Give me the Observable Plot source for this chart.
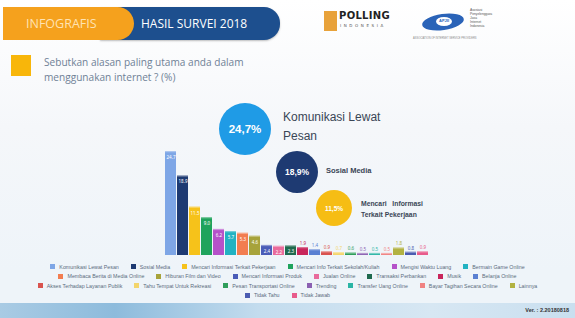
<!DOCTYPE html>
<html>
<head>
<meta charset="utf-8">
<script src="https://cdn.jsdelivr.net/npm/d3@7"></script>
<script src="https://cdn.jsdelivr.net/npm/@observablehq/plot@0.6"></script>
<style>
  html, body { margin: 0; padding: 0; background: #f6f8fb; }
  #slide { position: relative; width: 575px; height: 318px; overflow: hidden;
    font-family: "Open Sans", "Noto Sans", sans-serif;
    background: linear-gradient(180deg, #ffffff 0%, #f5f7fa 40%, #eef4f9 85%); }
  .abs { position: absolute; }
  #tab1 { left: 3px; top: 7px; width: 131px; height: 33px; background: #f5a11d;
    border-radius: 0 17px 17px 0; z-index: 2; }
  #tab2 { left: 100px; top: 7px; width: 180px; height: 33px; background: #1d4f8e;
    border-radius: 0 16px 16px 0; box-shadow: 0 1px 2px rgba(0,0,0,0.25); z-index: 1; }
  #tab1 span { position: absolute; left: 23px; top: 8px; color: #ffe3b3; font-size: 12.5px; }
  #tab2 span { position: absolute; left: 41px; top: 8px; color: #ffffff; font-size: 12px; }
  #qbox { left: 11px; top: 55px; width: 20px; height: 21px; background: #f8b60a; }
  #qtext { left: 44px; top: 55px; color: #6f8196; font-size: 10.1px; line-height: 15px; }
  .circle { position: absolute; border-radius: 50%; display: flex; align-items: center;
    justify-content: center; color: #fff; font-family: "Liberation Sans", Arial, sans-serif;
    font-weight: bold; }
  .clabel { position: absolute; font-family: "Liberation Sans", Arial, sans-serif; color: #3a4656; }
  #legend { left: 0; top: 262px; width: 575px; font-size: 5.3px; color: #5a6b7d;
    font-family: "Liberation Sans", Arial, sans-serif; }
  .lrow { display: flex; justify-content: center; height: 9.5px; align-items: center; }
  .litem { display: flex; align-items: center; margin: 0 6px; white-space: nowrap; }
  .sw { width: 5px; height: 5px; margin-right: 4px; display: inline-block; }
  #footer { left: 0; top: 303px; width: 575px; height: 15px;
    background: linear-gradient(90deg, #a9cbe4 0%, #8dbbdc 20%, #c3dcee 45%, #d7e7f3 75%, #c9dfef 100%); }
  #ver { right: 6px; top: 307px; font-size: 5.5px; font-weight: bold; color: #333;
    font-family: "Liberation Sans", Arial, sans-serif; }
</style>
</head>
<body>
<div id="slide">
  <div id="tab1" class="abs"><span>INFOGRAFIS</span></div>
  <div id="tab2" class="abs"><span>HASIL SURVEI 2018</span></div>

  <!-- Polling Indonesia logo -->
  <div class="abs" style="left:324px;top:11px;width:13px;height:20px;background:#e8a23a;"></div>
  <div class="abs" style="left:339px;top:10px;font-family:'DejaVu Sans',sans-serif;font-weight:bold;font-size:10px;color:#222;letter-spacing:0.3px;">POLLING</div>
  <div class="abs" style="left:340px;top:23px;font-family:'DejaVu Sans',sans-serif;font-size:4px;color:#555;letter-spacing:2.6px;">INDONESIA</div>

  <!-- APJII logo -->
  <div class="abs" style="left:422px;top:14px;width:42px;height:16px;border-radius:50%;background:#2a63b8;transform:rotate(-8deg);"></div>
  <div class="abs" style="left:436px;top:17px;width:16px;height:9px;border-radius:50%;background:#fff;"></div>
  <div class="abs" style="left:439px;top:18px;font-size:4px;color:#2a63b8;font-weight:bold;font-family:'Liberation Sans',sans-serif;">APJII</div>
  <div class="abs" style="left:470px;top:8px;font-size:3.3px;line-height:4px;color:#555;font-family:'Liberation Sans',sans-serif;">Asosiasi<br>Penyelenggara<br>Jasa<br>Internet<br>Indonesia</div>
  <div class="abs" style="left:413px;top:37px;font-size:2.6px;color:#888;font-family:'Liberation Sans',sans-serif;">ASSOCIATION OF INTERNET SERVICE PROVIDERS</div>

  <div id="qbox" class="abs"></div>
  <div id="qtext" class="abs">Sebutkan alasan paling utama anda dalam<br>menggunakan internet ? (%)</div>

  <div id="chart" class="abs" style="left:163px;top:151px;"></div>
  <div id="callouts"></div>

  <div id="legend" class="abs"></div>
  <div id="footer" class="abs"></div>
  <div id="ver" class="abs">Ver. : 2.20180818</div>
</div>
<script>
const reasons = [
  "Komunikasi Lewat Pesan",
  "Sosial Media",
  "Mencari Informasi Terkait Pekerjaan",
  "Mencari Info Terkait Sekolah/Kuliah",
  "Mengisi Waktu Luang",
  "Bermain Game Online",
  "Membaca Berita di Media Online",
  "Hiburan Film dan Video",
  "Mencari Informasi Produk",
  "Jualan Online",
  "Transaksi Perbankan",
  "Musik",
  "Belanja Online",
  "Akses Terhadap Layanan Publik",
  "Tahu Tempat Untuk Rekreasi",
  "Pesan Transportasi Online",
  "Trending",
  "Transfer Uang Online",
  "Bayar Tagihan Secara Online",
  "Lainnya",
  "Tidak Tahu",
  "Tidak Jawab"
];
const values = [24.7, 18.9, 11.5, 9.0, 6.2, 5.7, 5.3, 4.6, 2.4, 2.2, 2.3, 1.9, 1.4, 0.9, 0.7, 0.6, 0.5, 0.5, 0.5, 1.8, 0.8, 0.9];
const colors = ["#7ea6e6", "#1e3a72", "#f6c21a", "#1fa35c", "#b552c9", "#22b2c2", "#f27d50", "#a7a33b",
  "#4a5cb8", "#e96b9c", "#1f6a4e", "#c8255b", "#5a80d2", "#d9534f", "#f3d56c", "#2f9e5b",
  "#8b60b2", "#2bb5a5", "#f08282", "#b2b242", "#4b5cb1", "#e85b8b"];
const legendBreaks = [6, 13, 20];
const highlightColors = ["#1f9be6", "#1e3a72", "#f6bd14"];

const data = reasons.map((r, i) => ({reason: r, value: values[i], color: colors[i]}));

const chart = Plot.plot({
  width: 268,
  height: 104,
  marginTop: 0,
  marginBottom: 0,
  marginLeft: 0,
  marginRight: 0,
  x: {domain: reasons, padding: 0.06, axis: null},
  y: {domain: [0, 24.7], axis: null},
  style: {background: "transparent", overflow: "visible"},
  marks: [
    Plot.barY(data, {x: "reason", y: "value", fill: "color"}),
    Plot.tickY(data, {x: "reason", y: "value", stroke: "#ffffff", strokeOpacity: 0.35, strokeWidth: 1.5}),
    Plot.text(data.filter(d => d.value >= 2.2), {x: "reason", y: "value", text: d => d.value.toFixed(1), fill: "#ffffff", fontSize: 4.5, dy: 6}),
    Plot.text(data.filter(d => d.value < 2.2), {x: "reason", y: "value", text: d => d.value.toFixed(1), fill: "color", fontSize: 4.5, dy: -4})
  ]
});
document.getElementById("chart").appendChild(chart);

// Callouts for top three reasons
const callouts = [
  {cx: 245, cy: 129, r: 26, fs: 11.5, lx: 283, ly: 108, lfs: 12, weight: "normal"},
  {cx: 297, cy: 172, r: 21, fs: 8.5, lx: 326, ly: 165, lfs: 7.5, weight: "bold"},
  {cx: 334, cy: 208, r: 18, fs: 6.5, lx: 361, ly: 199, lfs: 6.8, weight: "bold"}
];
const labelText = ["Komunikasi Lewat<br>Pesan", "Sosial Media", "Mencari &nbsp;&nbsp;Informasi<br>Terkait Pekerjaan"];
const host = document.getElementById("callouts");
callouts.forEach((c, i) => {
  const d = document.createElement("div");
  d.className = "circle";
  d.style.left = (c.cx - c.r) + "px";
  d.style.top = (c.cy - c.r) + "px";
  d.style.width = (2 * c.r) + "px";
  d.style.height = (2 * c.r) + "px";
  d.style.background = highlightColors[i];
  d.style.fontSize = c.fs + "px";
  d.textContent = values[i].toFixed(1).replace(".", ",") + "%";
  host.appendChild(d);
  const l = document.createElement("div");
  l.className = "clabel";
  l.style.left = c.lx + "px";
  l.style.top = c.ly + "px";
  l.style.fontSize = c.lfs + "px";
  l.style.lineHeight = (c.lfs * 1.55) + "px";
  l.style.fontWeight = c.weight;
  l.innerHTML = labelText[i];
  host.appendChild(l);
});

// Legend
const legend = document.getElementById("legend");
let start = 0;
[...legendBreaks, reasons.length].forEach(end => {
  const row = document.createElement("div");
  row.className = "lrow";
  for (let i = start; i < end; i++) {
    const it = document.createElement("div");
    it.className = "litem";
    it.innerHTML = `<span class="sw" style="background:${colors[i]}"></span>${reasons[i]}`;
    row.appendChild(it);
  }
  legend.appendChild(row);
  start = end;
});
</script>
</body>
</html>
